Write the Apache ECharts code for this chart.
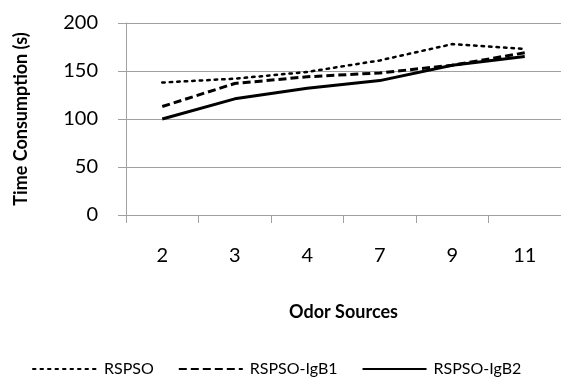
<!DOCTYPE html>
<html><head><meta charset="utf-8">
<script src="https://cdn.jsdelivr.net/npm/echarts@6/dist/echarts.min.js"></script>
<style>html,body{margin:0;padding:0;background:#fff}#c{width:561px;height:389px}</style>
</head><body><div id="c"></div>
<script>
const categories = ['2', '3', '4', '7', '9', '11'];
const rspso = [138, 142, 149, 161, 178, 173];
const rspsoIgB1 = [113, 137, 144, 148, 156, 169];
const rspsoIgB2 = [100, 121, 132, 140, 156, 165];
const yTicks = [0, 50, 100, 150, 200];

const FONT = 'Lato';
const chart = echarts.init(document.getElementById('c'), null, {renderer: 'canvas'});
chart.setOption({
  animation: false,
  backgroundColor: '#fff',
  textStyle: {fontFamily: FONT},
  grid: {left: 126, right: -10, top: 23, bottom: 174},
  xAxis: {
    type: 'category', data: categories, boundaryGap: true,
    name: 'Odor Sources', nameLocation: 'middle', nameGap: 88,
    nameTextStyle: {fontFamily: FONT, fontSize: 18, fontWeight: 'bold', color: '#000'},
    axisLine: {lineStyle: {color: '#a0a0a0', width: 1}},
    axisTick: {show: true, length: 8, alignWithLabel: false, lineStyle: {color: '#a0a0a0'}},
    axisLabel: {fontFamily: FONT, fontSize: 20, color: '#000', margin: 31}
  },
  yAxis: {
    type: 'value', min: yTicks[0], max: yTicks[yTicks.length - 1], interval: 50,
    name: 'Time Consumption (s)', nameLocation: 'middle', nameGap: 96, nameRotate: 90,
    nameTextStyle: {fontFamily: FONT, fontSize: 18, fontWeight: 'bold', color: '#000'},
    axisLine: {show: true, lineStyle: {color: '#a0a0a0', width: 1}},
    axisTick: {show: true, length: 8, lineStyle: {color: '#a0a0a0'}},
    splitLine: {lineStyle: {color: '#a0a0a0', width: 1}},
    axisLabel: {fontFamily: FONT, fontSize: 20, color: '#000', margin: 28}
  },
  legend: {
    bottom: 7, left: 27, itemGap: 24, itemWidth: 64, itemHeight: 10,
    itemStyle: {opacity: 0},
    textStyle: {fontFamily: FONT, fontSize: 16, color: '#000', padding: [0, 0, 0, 2]},
    data: ['RSPSO', 'RSPSO-IgB1', 'RSPSO-IgB2']
  },
  series: [
    {name: 'RSPSO', type: 'line', data: rspso, symbol: 'none', color: '#000',
     lineStyle: {color: '#000', width: 2.5, type: [2.5, 5], cap: 'round'}},
    {name: 'RSPSO-IgB1', type: 'line', data: rspsoIgB1, symbol: 'none', color: '#000',
     lineStyle: {color: '#000', width: 3, type: [8, 4]}},
    {name: 'RSPSO-IgB2', type: 'line', data: rspsoIgB2, symbol: 'none', color: '#000',
     lineStyle: {color: '#000', width: 3, type: 'solid'}}
  ]
});
</script></body></html>
